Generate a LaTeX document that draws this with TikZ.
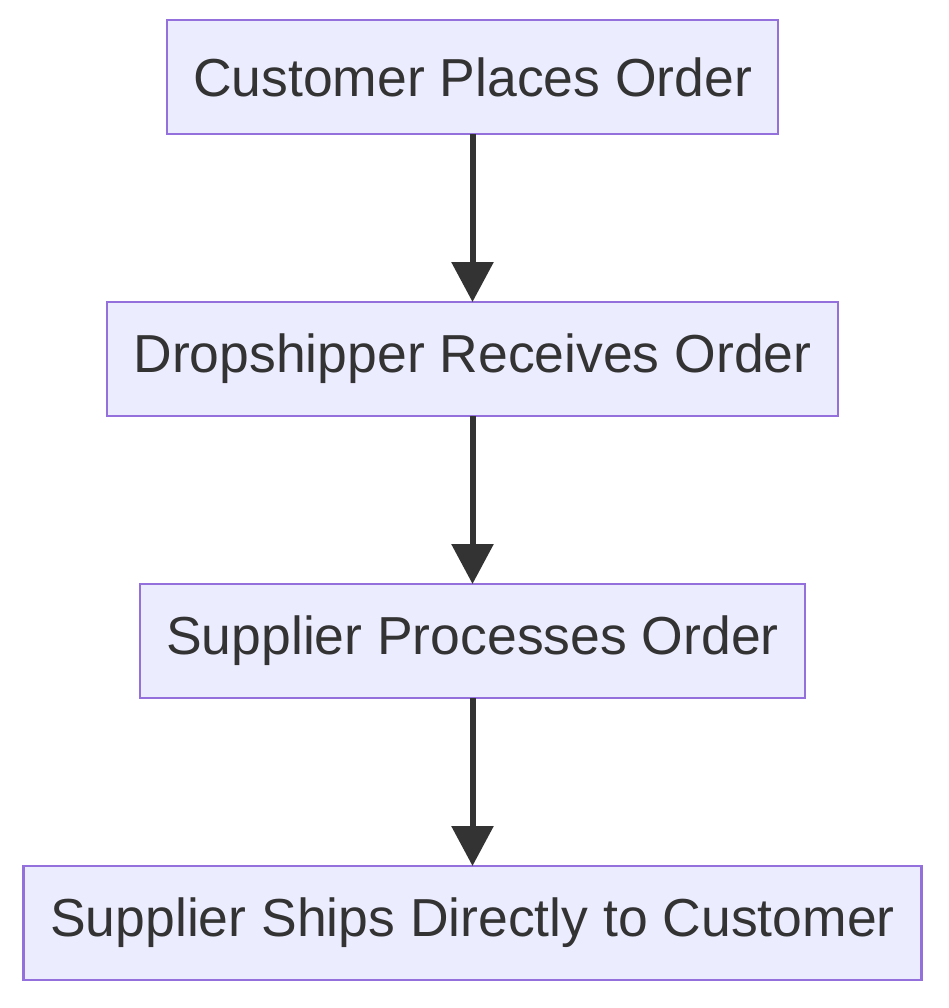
\documentclass[tikz,border=0pt]{standalone}
\usepackage{fontspec}
\setmainfont{Liberation Sans}
\usetikzlibrary{positioning,arrows.meta}
\definecolor{nodefill}{HTML}{ECECFF}
\definecolor{nodeline}{HTML}{9370DB}
\definecolor{linkline}{HTML}{333333}
\definecolor{textcol}{HTML}{333333}

\begin{document}
\begin{tikzpicture}[
            node distance=168pt,
            stepbox/.style={rectangle, draw=nodeline, line width=2.5pt, fill=nodefill, minimum height=114pt, inner xsep=0pt, outer sep=0pt, text=textcol, font=\fontsize{53.5}{60}\selectfont},
            arrow/.style={-{Triangle[length=40pt, width=41pt]}, line width=6pt, draw=linkline}
            ]
            \useasboundingbox (0,0) rectangle (948pt,-1008pt);

            % Steps
            \node[stepbox, minimum width=611pt] (order) at (472.5pt,-77pt) {Customer Places Order};
            \node[stepbox, minimum width=731pt, below=of order] (receive) {Dropshipper Receives Order};
            \node[stepbox, minimum width=665pt, below=of receive] (process) {Supplier Processes Order};
            \node[stepbox, minimum width=898pt, below=of process] (ship) {Supplier Ships Directly to Customer};

            % Arrows
            \draw[arrow] (order) -- (receive);
            \draw[arrow] (receive) -- (process);
            \draw[arrow] (process) -- (ship);

        \end{tikzpicture}
\end{document}
